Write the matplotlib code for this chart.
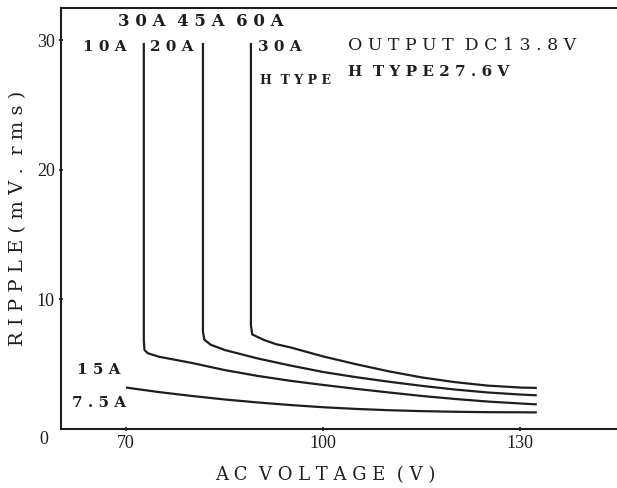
import matplotlib
matplotlib.use("Agg")
import matplotlib.pyplot as plt

# ---- data ----
x_ticks = [70, 100, 130]
y_ticks = [10, 20, 30]

# curve with vertical at ~72.7 V (10A / 30A / 15A)
v_c1 = [72.7, 72.7, 72.8, 73.3, 75, 80, 85, 90, 95, 100, 105, 110, 115, 120, 125, 130, 132.5]
r_c1 = [29.8, 6.9, 6.1, 5.85, 5.58, 5.1, 4.55, 4.1, 3.72, 3.4, 3.1, 2.82, 2.55, 2.32, 2.12, 1.97, 1.9]

# curve with vertical at ~81.7 V (20A / 45A)
v_c2 = [81.7, 81.7, 81.9, 82.9, 85, 90, 95, 100, 105, 110, 115, 120, 125, 130, 132.5]
r_c2 = [29.8, 7.5, 6.9, 6.5, 6.1, 5.45, 4.9, 4.4, 4.0, 3.65, 3.33, 3.05, 2.82, 2.66, 2.6]

# curve with vertical at ~89 V (30A H TYPE / 60A)
v_c3 = [89.0, 89.0, 89.2, 91.0, 92.8, 95, 100, 105, 110, 115, 120, 125, 130, 132.5]
r_c3 = [29.8, 8.0, 7.3, 6.87, 6.55, 6.3, 5.6, 5.0, 4.45, 3.98, 3.62, 3.35, 3.2, 3.17]

# 7.5A curve
v_c4 = [70, 75, 80, 85, 90, 95, 100, 105, 110, 115, 120, 125, 130, 132.5]
r_c4 = [3.2, 2.85, 2.55, 2.28, 2.05, 1.85, 1.68, 1.55, 1.45, 1.38, 1.33, 1.3, 1.29, 1.28]

W, H = 617, 488
fig = plt.figure(figsize=(W / 100, H / 100), dpi=100)
fig.patch.set_facecolor("white")

def fx(px):
    return px / W

def fy(py):
    return 1 - py / H

ax = fig.add_axes([fx(61), fy(429), fx(617) - fx(61), fy(8) - fy(429)])
ink = "#1e1e1e"
for v, r in [(v_c1, r_c1), (v_c2, r_c2), (v_c3, r_c3), (v_c4, r_c4)]:
    ax.plot(v, r, color=ink, lw=1.6, solid_joinstyle="round", solid_capstyle="butt")

ax.set_xlim(60.1, 144.7)
ax.set_ylim(0, 32.5)
ax.spines["right"].set_visible(False)
for s in ["left", "bottom", "top"]:
    ax.spines[s].set_linewidth(1.5)
    ax.spines[s].set_color(ink)

serif = "Liberation Serif"
ax.set_xticks(x_ticks)
ax.set_xticklabels([str(t) for t in x_ticks], fontfamily=serif, fontsize=13)
ax.set_yticks(y_ticks)
ax.set_yticklabels([str(t) for t in y_ticks], fontfamily=serif, fontsize=13)
ax.tick_params(axis="both", direction="inout", length=3, width=1.2, color=ink,
               labelcolor=ink)
ax.tick_params(axis="x", pad=3)
ax.tick_params(axis="y", pad=3)

# origin label
fig.text(fx(44), fy(440), "0", ha="center", va="center", fontfamily=serif,
         fontsize=13, color=ink)

# axis titles
fig.text(fx(325), fy(475), "A C  V O L T A G E  ( V )", ha="center", va="center",
         fontfamily="DejaVu Serif", fontsize=13, color=ink)
fig.text(fx(18), fy(218), "R I P P L E ( m V .  r m s )", ha="center", va="center",
         rotation=90, fontfamily="DejaVu Serif", fontsize=14, color=ink)

# annotations
bold = dict(fontfamily="DejaVu Serif", fontweight="bold", color=ink, va="center")
fig.text(fx(118), fy(21), "3 0 A  4 5 A  6 0 A", fontsize=12, ha="left", **bold)
fig.text(fx(83), fy(47), "1 0 A", fontsize=11, ha="left", **bold)
fig.text(fx(150), fy(47), "2 0 A", fontsize=11, ha="left", **bold)
fig.text(fx(258), fy(47), "3 0 A", fontsize=11, ha="left", **bold)
fig.text(fx(260), fy(80), "H  T Y P E", fontsize=9, ha="left", **bold)
fig.text(fx(77), fy(370), "1 5 A", fontsize=11, ha="left", **bold)
fig.text(fx(72), fy(403), "7 . 5 A", fontsize=11, ha="left", **bold)

fig.text(fx(348), fy(45), "O U T P U T  D C 1 3 . 8 V", fontsize=12.5, ha="left",
         va="center", fontfamily="DejaVu Serif", color=ink)
fig.text(fx(348), fy(72), "H  T Y P E 2 7 . 6 V", fontsize=11, ha="left", **bold)

fig.savefig("out.png", dpi=100, facecolor="white")
